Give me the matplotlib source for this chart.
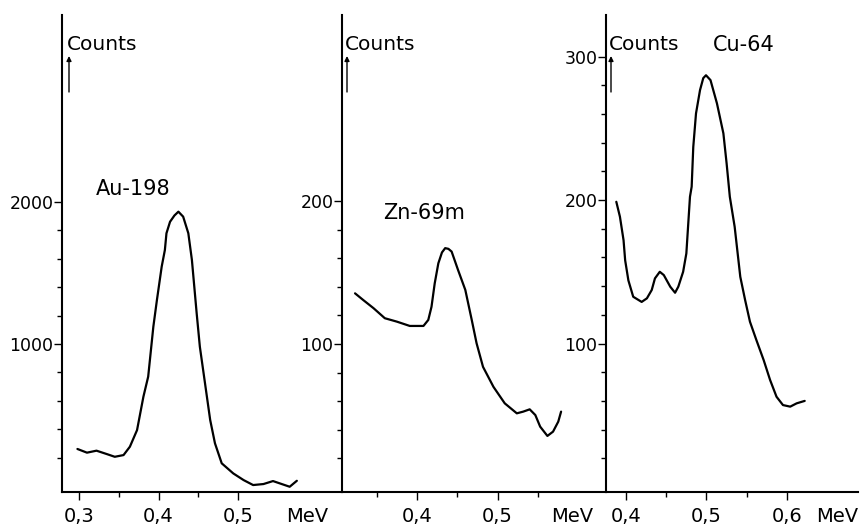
import matplotlib
matplotlib.use("Agg")
import matplotlib.pyplot as plt
import numpy as np

# ---------------- data ----------------
au_energy = [0.298, 0.310, 0.322, 0.335, 0.345, 0.356, 0.364, 0.373, 0.381, 0.387,
             0.3935, 0.398, 0.404, 0.408, 0.410, 0.4145, 0.420, 0.425, 0.431, 0.4375, 0.442,
             0.448, 0.452, 0.4585, 0.465, 0.471, 0.4795, 0.494, 0.507, 0.519, 0.532,
             0.544, 0.555, 0.565, 0.574]
au_counts = [261, 235, 249, 225, 206, 218, 277, 394, 629, 770,
             1122, 1310, 1545, 1662, 1780, 1861, 1905, 1932, 1897, 1780, 1592,
             1216, 981, 723, 465, 301, 160, 89, 42, 7, 14,
             35, 14, -5, 37]

zn_energy = [0.323, 0.333, 0.346, 0.360, 0.375, 0.391, 0.408, 0.414, 0.418, 0.422,
             0.4265, 0.431, 0.435, 0.439, 0.443, 0.451, 0.460, 0.468, 0.474, 0.482, 0.495, 0.509,
             0.524, 0.532, 0.540, 0.547, 0.553, 0.562, 0.569, 0.5755, 0.579]
zn_counts = [135.4, 130.8, 125, 118, 115.6, 112.6, 112.6, 116.8, 126, 142.4,
             156.4, 164, 167, 166.5, 164.6, 151.7, 137.8, 116.8, 100.5, 84, 70, 58.5,
             51.5, 52.7, 54.3, 50.3, 42.2, 35.7, 38.7, 45.7, 52.7]

cu_energy = [0.388, 0.3925, 0.397, 0.399, 0.403, 0.409, 0.4195, 0.426, 0.432, 0.436,
             0.442, 0.447, 0.455, 0.461, 0.465, 0.471, 0.475, 0.4795, 0.4816, 0.4836,
             0.487, 0.492, 0.496, 0.4994, 0.505, 0.513, 0.521, 0.525, 0.529, 0.535, 0.542,
             0.548, 0.554, 0.562, 0.571, 0.579, 0.587, 0.595, 0.604, 0.612, 0.622]
cu_counts = [198.8, 188.4, 172, 158, 144, 132.6, 129, 131.5, 137.3, 145.4,
             150, 147.7, 139.6, 135.4, 139.6, 150, 162.8, 202.3, 209.3, 237,
             260.4, 276.7, 285, 287, 283.6, 267.4, 246.5, 225.6, 202.3, 181.4, 146.5,
             130.3, 115.2, 102.4, 88.5, 74.6, 62.9, 57.1, 56, 58.3, 60]

panel_labels = ["Au-198", "Zn-69m", "Cu-64"]
x_major = [[0.3, 0.4, 0.5], [0.4, 0.5], [0.4, 0.5, 0.6]]
x_minor = [[0.35, 0.45], [0.35, 0.45, 0.55], [0.45, 0.55]]
y_major = [[1000, 2000], [100, 200], [100, 200, 300]]
y_minor = [[200, 400, 600, 800, 1200, 1400, 1600, 1800],
           [20, 40, 60, 80, 120, 140, 160, 180],
           [20, 40, 60, 80, 120, 140, 160, 180, 220, 240, 260, 280]]

# ---------------- layout ----------------
W, H = 863, 531
fig = plt.figure(figsize=(W / 100, H / 100), dpi=100)
plt.rcParams['font.family'] = ['DejaVu Sans']

base_y = 492
top_y = 15
panels_px = [(62, 342), (342, 606), (606, 858)]
xlims = [(0.2786, 0.6308), (0.3068, 0.6348), (0.3752, 0.6882)]
ylims = [(-42, 3317), (-3.5, 330), (-3.5, 329)]
energies = [au_energy, zn_energy, cu_energy]
counts = [au_counts, zn_counts, cu_counts]

label_pos = [(0.368, 2092, 'center'), (0.409, 191.6, 'center'), None]
mev_x = [0.587, 0.593, 0.662]

def fmt(v):
    if v < 1:
        return ("%.1f" % v).replace(".", ",")
    return "%d" % v

axes = []
for i, (l, r) in enumerate(panels_px):
    ax = fig.add_axes([l / W, (H - base_y) / H, (r - l) / W, (base_y - top_y) / H])
    axes.append(ax)
    ax.plot(energies[i], counts[i], color='black', lw=1.6, solid_joinstyle='round',
            solid_capstyle='round')
    ax.set_xlim(*xlims[i])
    ax.set_ylim(*ylims[i])
    ax.patch.set_alpha(0)
    for s in ['top', 'right']:
        ax.spines[s].set_visible(False)
    for s in ['left', 'bottom']:
        ax.spines[s].set_linewidth(1.5)
    ax.set_xticks(x_major[i])
    ax.set_xticklabels([fmt(v) for v in x_major[i]])
    ax.set_xticks(x_minor[i], minor=True)
    ax.set_yticks(y_major[i])
    ax.set_yticklabels([fmt(v) for v in y_major[i]])
    ax.set_yticks(y_minor[i], minor=True)
    ax.tick_params(axis='x', which='major', direction='out', length=5.8, width=1.0,
                   labelsize=14, pad=5)
    ax.tick_params(axis='x', which='minor', direction='out', length=3.6, width=1.0)
    ax.tick_params(axis='y', which='major', direction='out', length=5.8, width=1.0,
                   labelsize=12.5, pad=0.5)
    ax.tick_params(axis='y', which='minor', direction='out', length=3.6, width=1.0)

    ax.annotate("MeV", xy=(mev_x[i], 0), xycoords=('data', 'axes fraction'),
                xytext=(0, -10.8), textcoords='offset points', ha='center', va='top',
                fontsize=14)

    # "Counts" with arrow
    ax_w = r - l
    ax_h = base_y - top_y
    cx = (l + 5 if i == 0 else l + 3)
    ax.text((cx - l) / ax_w, (base_y - 45) / ax_h, "Counts", transform=ax.transAxes,
            ha='left', va='center', fontsize=14.5)
    arrow_x = (cx + 2 - l) / ax_w
    ax.annotate("", xy=(arrow_x, (base_y - 56) / ax_h), xycoords='axes fraction',
                xytext=(arrow_x, (base_y - 92) / ax_h), textcoords='axes fraction',
                arrowprops=dict(arrowstyle='-|>', lw=1.0, color='black',
                                mutation_scale=7, shrinkA=0, shrinkB=0))

    if label_pos[i] is not None:
        lx, ly, ha = label_pos[i]
        ax.text(lx, ly, panel_labels[i], ha=ha, va='center', fontsize=15)
    else:
        ax.text((713 - l) / ax_w, (base_y - 45) / ax_h, panel_labels[i],
                transform=ax.transAxes, ha='left', va='center', fontsize=15)

fig.savefig("out.png", dpi=100)
